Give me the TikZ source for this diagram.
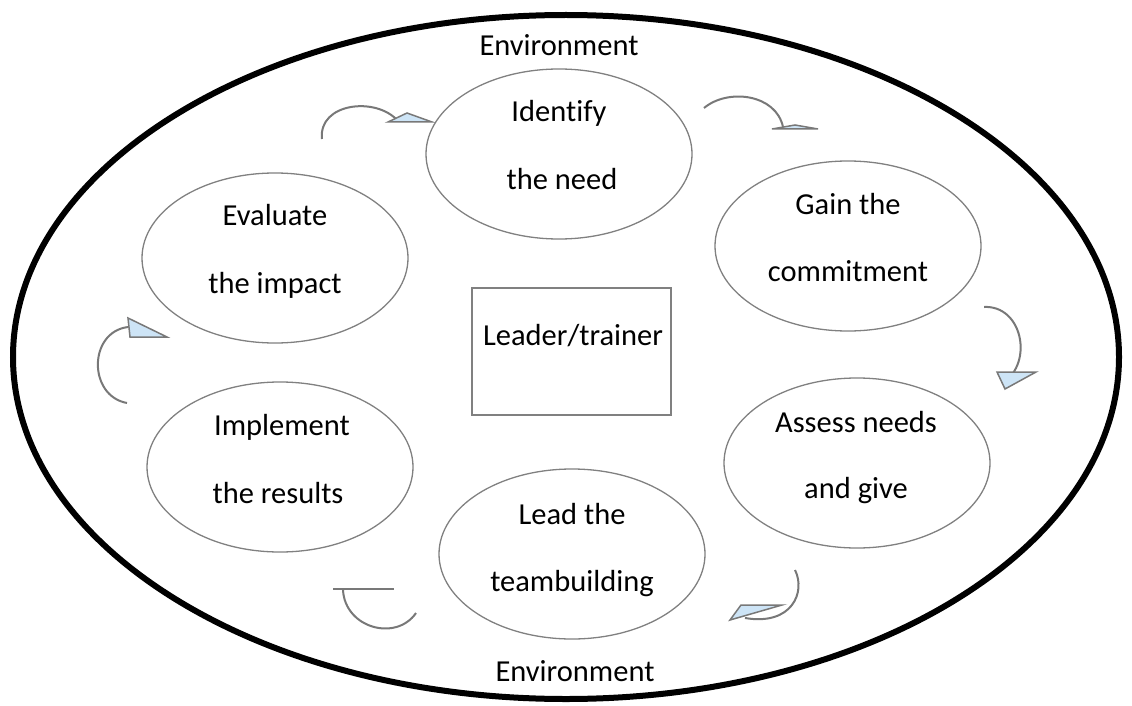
\documentclass[tikz,border=0pt]{standalone}
\usepackage{fontspec}
\setmainfont{Carlito}[Ligatures=NoCommon]
\usetikzlibrary{shapes.geometric}
\definecolor{shapegray}{RGB}{128,128,128}
\definecolor{arrowgray}{RGB}{120,120,120}
\definecolor{headblue}{RGB}{205,228,246}
\begin{document}
\begin{tikzpicture}[x=1pt,y=-1pt,
  stage/.style={draw=shapegray,line width=1.3pt,ellipse,minimum width=266pt,minimum height=170pt,inner sep=0pt},
  lbl/.style={anchor=base,inner sep=0pt,font=\fontsize{30.5}{36}\selectfont},
  curvearrow/.style={draw=arrowgray,line width=2pt},
  headtri/.style={draw=arrowgray,line width=1.5pt,fill=headblue,line join=miter}]
\useasboundingbox (0,0) rectangle (1132,706);
% outer environment ellipse
\node[draw=black,line width=6pt,ellipse,minimum width=1106pt,minimum height=684pt,inner sep=0pt] (env) at (566,357) {};
\node[lbl] (envtop) at (559,56) {Environment};
\node[lbl] (envbot) at (575,681) {Environment};
% stages
\node[stage] (idn) at (559,154) {};
\node[lbl] (idn1) at (559,122) {Identify};
\node[lbl] (idn2) at (562,189) {the need};
\node[stage] (gain) at (848,246) {};
\node[lbl] (gain1) at (848,214) {Gain the};
\node[lbl] (gain2) at (848,281) {commitment};
\node[stage] (assess) at (857,463) {};
\node[lbl] (assess1) at (856,432) {Assess needs};
\node[lbl] (assess2) at (856,498) {and give};
\node[stage] (lead) at (572,554) {};
\node[lbl] (lead1) at (572,524) {Lead the};
\node[lbl] (lead2) at (572,591) {teambuilding};
\node[stage] (impl) at (280,467) {};
\node[lbl] (impl1) at (282,435) {Implement};
\node[lbl] (impl2) at (278,503) {the results};
\node[stage] (eval) at (275,258) {};
\node[lbl] (eval1) at (275,225) {Evaluate};
\node[lbl] (eval2) at (275,293) {the impact};
% centre box
\node[draw=shapegray,line width=1.3pt,rectangle,minimum width=199pt,minimum height=127pt,inner sep=0pt] (lead box) at (571.5,351.5) {};
\node[lbl] (leadtxt) at (573,345) {Leader/trainer};
% curved arrows
\draw[curvearrow] (322,139) .. controls (318,103) and (376,96) .. (398,121);
\draw[headtri] (388,122) -- (407,113) -- (432,122) -- cycle;
\draw[curvearrow] (704,108) .. controls (728,88) and (776,94) .. (783,127);
\draw[headtri] (772,129) -- (795,125) -- (818,129) -- cycle;
\draw[curvearrow] (984,307) .. controls (1022,305) and (1034,362) .. (1003,383);
\draw[headtri] (997,372) -- (1036,372) -- (1005,389) -- cycle;
\draw[curvearrow] (795,570) .. controls (806,592) and (792,626) .. (745,618);
\draw[headtri] (741,605) -- (782,605) -- (730,620) -- cycle;
\draw[headtri] (333,589) -- (394,589);
\draw[curvearrow] (343,590) .. controls (345,628) and (396,642) .. (416,613);
\draw[curvearrow] (128,327) .. controls (88,332) and (88,396) .. (127,403);
\draw[headtri] (128,318) -- (130,337) -- (167,337) -- cycle;
\end{tikzpicture}
\end{document}
